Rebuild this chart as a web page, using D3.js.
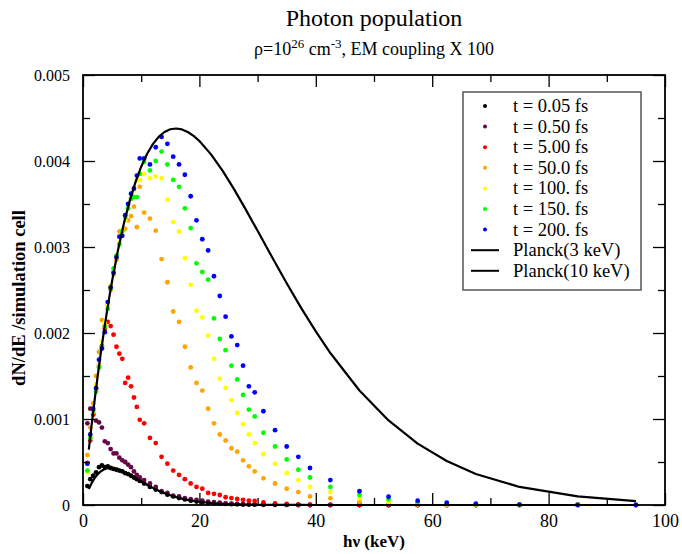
<!DOCTYPE html>
<html><head><meta charset="utf-8">
<script src="https://cdn.jsdelivr.net/npm/d3@7/dist/d3.min.js"></script>
<style>body{margin:0;background:#fff}svg{display:block}</style>
</head><body>
<svg id="chart" width="682" height="554"></svg>
<script>
// ---------- data ----------
const energies = [0.75,1.25,1.75,2.25,2.75,3.25,3.75,4.25,4.75,5.25,5.75,6.25,6.75,7.25,7.75,8.25,8.75,9.25,9.75,
  10.5,11.5,12.5,13.5,14.5,15.5,16.5,17.5,18.5,19.5,20.5,21.5,22.5,23.5,24.5,25.5,26.5,27.5,28.5,29.5,
  31,33,35,37,39,42.5,47.5,52.5,57.5,62.5,67.5,75,85,95];

const t005 = [0.00022,0.00030,0.00034,0.00038,0.00044,0.00046,0.00044,0.00045,0.00043,0.00042,0.00041,0.00040,0.00039,0.00037,0.00036,0.00034,0.00032,0.00030,0.00028,
  0.00025,0.00021,0.00018,0.00015,0.00012,0.00010,0.00008,0.000065,0.00005,0.00004,0.00003,0.000025,0.00002,0.000015,0.000012,0.00001,0.000008,0.000006,0.000005,0.000004,
  0.000003,0.000002,0.000001,0,0,0,0,0,0,0,0,0,0,0];
const t050 = [0.00095,0.00112,0.00106,0.00098,0.00096,0.00090,0.00074,0.00072,0.00065,0.00060,0.00060,0.00055,0.00052,0.00050,0.00047,0.00044,0.00039,0.00035,0.00032,
  0.00029,0.00025,0.00021,0.00016,0.00014,0.00011,0.00010,0.00008,0.000068,0.00006,0.00005,0.00004,0.000032,0.000026,0.00002,0.000016,0.000012,0.00001,0.000008,0.000006,
  0.000004,0.000003,0.000002,0.000001,0,0,0,0,0,0,0,0,0,0];
const t500 = [0.00049,0.00075,0.00105,0.00135,0.00162,0.00185,0.00205,0.00213,0.00208,0.00198,0.00184,0.00176,0.00170,0.00142,0.00148,0.00138,0.00125,0.00114,0.00099,
  0.00095,0.00078,0.00072,0.00056,0.00048,0.00040,0.00035,0.00030,0.00025,0.00021,0.00019,0.00014,0.00013,0.000116,0.00009,0.00008,0.00007,0.00006,0.00005,0.000048,
  0.00003,0.00002,0.000012,0.000007,0.000004,0.000002,0.000001,0,0,0,0,0,0,0];
const t5000 = [0.00058,0.00090,0.00118,0.00150,0.00178,0.00215,0.00209,0.00232,0.00250,0.00268,0.00285,0.00318,0.00319,0.00321,0.00331,0.00336,0.00347,0.00323,0.00370,
  0.00340,0.00333,0.00319,0.00286,0.00259,0.00225,0.00213,0.00184,0.00160,0.00142,0.00133,0.00112,0.00095,0.00082,0.00075,0.00066,0.00062,0.00052,0.00045,0.00039,
  0.00031,0.00025,0.00019,0.00015,0.00010,0.000078,0.000035,0.000012,0.000005,0.000002,0.000001,0,0,0];
const t100 = [0.00038,0.00080,0.00108,0.00140,0.00162,0.00190,0.00212,0.00232,0.00255,0.00272,0.00290,0.00305,0.00320,0.00331,0.00345,0.00356,0.00366,0.00377,0.00378,
  0.00385,0.00380,0.00382,0.00380,0.00355,0.00329,0.00318,0.00287,0.00256,0.00226,0.00218,0.00197,0.00170,0.00147,0.00136,0.00122,0.00107,0.00094,0.00082,0.00072,
  0.00059,0.00048,0.00037,0.00029,0.00021,0.00015,0.000078,0.000035,0.000012,0.000005,0.000002,0.000001,0,0];
const t150 = [0.00040,0.00078,0.00110,0.00132,0.00160,0.00184,0.00207,0.00228,0.00252,0.00275,0.00290,0.00303,0.00318,0.00335,0.00345,0.00356,0.00358,0.00358,0.00385,
  0.00399,0.00389,0.00400,0.00411,0.00396,0.00378,0.00370,0.00345,0.00322,0.00281,0.00271,0.00262,0.00217,0.00193,0.00180,0.00162,0.00146,0.00128,0.00111,0.00103,
  0.00084,0.00068,0.00053,0.00041,0.00032,0.00021,0.000116,0.000066,0.00003,0.000012,0.000006,0.000002,0,0];
const t200 = [0.00048,0.00082,0.00112,0.00136,0.00169,0.00182,0.00201,0.00236,0.00253,0.00270,0.00288,0.00312,0.00313,0.00337,0.00350,0.00362,0.00368,0.00383,0.00403,
  0.00403,0.00396,0.00416,0.00428,0.00420,0.00405,0.00396,0.00384,0.00359,0.00331,0.00309,0.00296,0.00266,0.00243,0.00219,0.00196,0.00186,0.00162,0.00138,0.00131,
  0.00109,0.00087,0.00068,0.00056,0.00043,0.00029,0.00016,0.000096,0.00005,0.000027,0.000015,0.000005,0.000002,0.000001];

const planckEnergies = [1,1.5,2,2.5,3,3.5,4,4.5,5,6,7,8,9,10,11,12,13,14,15,16,17,18,19,20,22,24,26,28,30,32.5,35,37.5,40,42.5,47.5,52.5,57.5,62.5,67.5,75,85,95];
const planck3keV = [0.000187,0.000257,0.000312,0.000356,0.000388,0.000410,0.000424,0.000429,0.000431,0.000417,0.000389,0.000354,0.000314,0.000274,0.000235,0.000199,0.000166,0.000138,0.000113,0.0000919,0.0000743,0.0000596,0.0000475,0.0000377,
  0.0000234,0.0000143,0.0000086,0.0000051,0.000003,0.0000015,0.0000008,0.0000004,0.0000002,0.0000001,0,0,0,0,0,0,0,0];
const planck10keV = [0.000643,0.000940,0.001221,0.001488,0.001739,0.001976,0.002199,0.002409,0.002605,0.002960,0.003267,0.003530,0.003751,0.003934,0.004081,0.004196,0.004280,0.004337,0.004369,0.004378,0.004367,0.004337,0.004292,0.004232,
  0.004077,0.003885,0.003667,0.003432,0.003188,0.002880,0.002578,0.002289,0.002018,0.001767,0.001331,0.000983,0.000714,0.000511,0.000361,0.000210,0.0000994,0.0000457];

const seriesNames = ["t = 0.05 fs","t = 0.50 fs","t = 5.00 fs","t = 50.0 fs","t = 100. fs","t = 150. fs","t = 200. fs"];
const lineNames = ["Planck(3 keV)","Planck(10 keV)"];
const xMajorTicks = [0,20,40,60,80,100];
const xMinorTicks = [10,30,50,70,90];
const yMajorTicks = [0,0.001,0.002,0.003,0.004,0.005];
const yTickLabels = ["0","0.001","0.002","0.003","0.004","0.005"];
const yMinorTicks = [0.0005,0.0015,0.0025,0.0035,0.0045];

// ---------- styles ----------
const seriesColors = ["#000000","#670748","#ff0000","#ffa500","#ffff00","#00ff00","#0000ff"];
const FONT = "'Liberation Serif','Times New Roman',Times,serif";

const series = [t005,t050,t500,t5000,t100,t150,t200];

const svg = d3.select("#chart");
const L=83, R=665, T=75, B=505;
const x = d3.scaleLinear().domain([0,100]).range([L,R]);
const y = d3.scaleLinear().domain([0,0.005]).range([B,T]);

// title
svg.append("text").attr("x",374).attr("y",26).attr("text-anchor","middle")
  .attr("font-family",FONT).attr("font-size",24).text("Photon population");
const sub = svg.append("text").attr("x",374).attr("y",55).attr("text-anchor","middle")
  .attr("font-family",FONT).attr("font-size",18);
sub.append("tspan").text("\u03c1=10");
sub.append("tspan").attr("dy",-7).attr("font-size",13).text("26");
sub.append("tspan").attr("dy",7).text(" cm");
sub.append("tspan").attr("dy",-7).attr("font-size",13).text("-3");
sub.append("tspan").attr("dy",7).text(", EM coupling X 100");

// points
const gPts = svg.append("g");
series.forEach((vals,si)=>{
  gPts.append("g").selectAll("circle").data(energies.map((e,i)=>[e,vals[i]])).join("circle")
    .attr("cx",d=>x(d[0])).attr("cy",d=>y(d[1])).attr("r",2.4).attr("fill",seriesColors[si]);
});

// planck lines
const line = d3.line().x(d=>x(d[0])).y(d=>y(d[1]));
[planck3keV, planck10keV].forEach(vals=>{
  svg.append("path").datum(planckEnergies.map((e,i)=>[e,vals[i]]))
    .attr("d",line).attr("fill","none").attr("stroke","#000").attr("stroke-width",2.2)
    .attr("stroke-linejoin","round");
});

// axes
function styleAxis(g){
  g.selectAll(".domain").remove();
  g.selectAll(".tick line").attr("stroke","#000").attr("stroke-width",1.3);
  g.selectAll(".tick text").attr("font-family",FONT).attr("fill","#000");
}
svg.append("g").attr("transform",`translate(0,${B})`)
  .call(d3.axisBottom(x).tickValues(xMajorTicks).tickSize(-12).tickPadding(9).tickFormat(d3.format("d")))
  .call(styleAxis).call(g=>g.selectAll("text").attr("font-size",18));
svg.append("g").attr("transform",`translate(0,${B})`)
  .call(d3.axisBottom(x).tickValues(xMinorTicks).tickSize(-7).tickFormat(""))
  .call(styleAxis);
svg.append("g").attr("transform",`translate(0,${T})`)
  .call(d3.axisTop(x).tickValues(xMajorTicks).tickSize(-12).tickFormat(""))
  .call(styleAxis);
svg.append("g").attr("transform",`translate(0,${T})`)
  .call(d3.axisTop(x).tickValues(xMinorTicks).tickSize(-7).tickFormat(""))
  .call(styleAxis);
svg.append("g").attr("transform",`translate(${L},0)`)
  .call(d3.axisLeft(y).tickValues(yMajorTicks).tickSize(-12).tickPadding(13).tickFormat((d,i)=>yTickLabels[i]))
  .call(styleAxis).call(g=>g.selectAll("text").attr("font-size",16));
svg.append("g").attr("transform",`translate(${L},0)`)
  .call(d3.axisLeft(y).tickValues(yMinorTicks).tickSize(-7).tickFormat(""))
  .call(styleAxis);
svg.append("g").attr("transform",`translate(${R},0)`)
  .call(d3.axisRight(y).tickValues(yMajorTicks).tickSize(-12).tickFormat(""))
  .call(styleAxis);
svg.append("g").attr("transform",`translate(${R},0)`)
  .call(d3.axisRight(y).tickValues(yMinorTicks).tickSize(-7).tickFormat(""))
  .call(styleAxis);

// frame
svg.append("rect").attr("x",L).attr("y",T).attr("width",R-L).attr("height",B-T)
  .attr("fill","none").attr("stroke","#000").attr("stroke-width",1.8);

// axis labels
svg.append("text").attr("x",374).attr("y",547).attr("text-anchor","middle")
  .attr("font-family",FONT).attr("font-size",17).attr("font-weight","bold").text("h\u03bd (keV)");
svg.append("text").attr("transform","translate(25,298) rotate(-90)").attr("text-anchor","middle")
  .attr("font-family",FONT).attr("font-size",18.5).attr("font-weight","bold").text("dN/dE /simulation cell");

// legend
const lg = svg.append("g");
lg.append("rect").attr("x",463).attr("y",92).attr("width",178).attr("height",198)
  .attr("fill","#fff").attr("stroke","#555").attr("stroke-width",1.5);
const rowY = i => 106 + i*20.6;
seriesNames.forEach((n,i)=>{
  lg.append("circle").attr("cx",485).attr("cy",rowY(i)).attr("r",2).attr("fill",seriesColors[i]);
  lg.append("text").attr("x",513).attr("y",rowY(i)+6).attr("font-family",FONT).attr("font-size",18.5).text(n);
});
lineNames.forEach((n,j)=>{
  const i = seriesNames.length + j;
  lg.append("line").attr("x1",471).attr("x2",499).attr("y1",rowY(i)).attr("y2",rowY(i))
    .attr("stroke","#000").attr("stroke-width",2);
  lg.append("text").attr("x",513).attr("y",rowY(i)+6).attr("font-family",FONT).attr("font-size",18.5).text(n);
});
</script>
</body></html>
